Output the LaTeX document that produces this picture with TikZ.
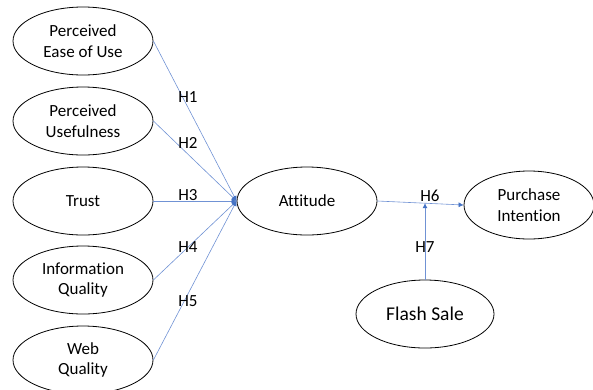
\documentclass[tikz,border=0pt]{standalone}
\usepackage{fontspec}
\setmainfont{Carlito}[Ligatures=NoCommon]
\usetikzlibrary{arrows.meta,calc,shapes.geometric}
\definecolor{lblue}{RGB}{112, 146, 212}
\definecolor{dblue}{RGB}{68, 114, 196}

\begin{document}
\begin{tikzpicture}[x=1pt, y=-1pt,
    construct/.style={draw, line width=0.8pt, ellipse, minimum width=140pt, minimum height=68pt,
        inner sep=0pt, align=center, font=\fontsize{17}{20.7}\selectfont},
    link/.style={draw=lblue, line width=0.6pt, -{Latex[length=5pt,width=5pt,color=dblue]}},
    hyp/.style={font=\fontsize{17}{20}\selectfont}]
    \useasboundingbox (0,0) rectangle (593,389);
    \node[construct] (peou) at (83,41) {Perceived\\Ease of Use};
    \node[construct] (pu) at (83,121) {Perceived\\Usefulness};
    \node[construct] (tr) at (83,201) {Trust};
    \node[construct] (iq) at (83,280) {Information\\Quality};
    \node[construct] (wq) at (83,360) {Web\\Quality};
    \node[construct] (att) at (307,201) {Attitude};
    \node[construct, minimum width=130pt] (pi) at (529,205) {Purchase\\Intention};
    \node[construct, minimum width=138pt, font=\fontsize{19.5}{22}\selectfont] (fs) at (425,314) {Flash Sale};

    \foreach \src in {peou,pu,tr,iq,wq}
        \draw[link] (\src.east) -- (att.west);
    \draw[link] (att.east) -- (pi.west);
    \coordinate (mid) at ($(att.east)!0.55!(pi.west)$);
    \draw[link] (fs.north) -- (fs.north |- mid);

    \node[hyp] (h1) at (188,97) {H1};
    \node[hyp] (h2) at (188,143) {H2};
    \node[hyp] (h3) at (188,195) {H3};
    \node[hyp] (h4) at (188,247) {H4};
    \node[hyp] (h5) at (188,301) {H5};
    \node[hyp] (h6) at (430,196) {H6};
    \node[hyp] (h7) at (425,247) {H7};
\end{tikzpicture}
\end{document}
